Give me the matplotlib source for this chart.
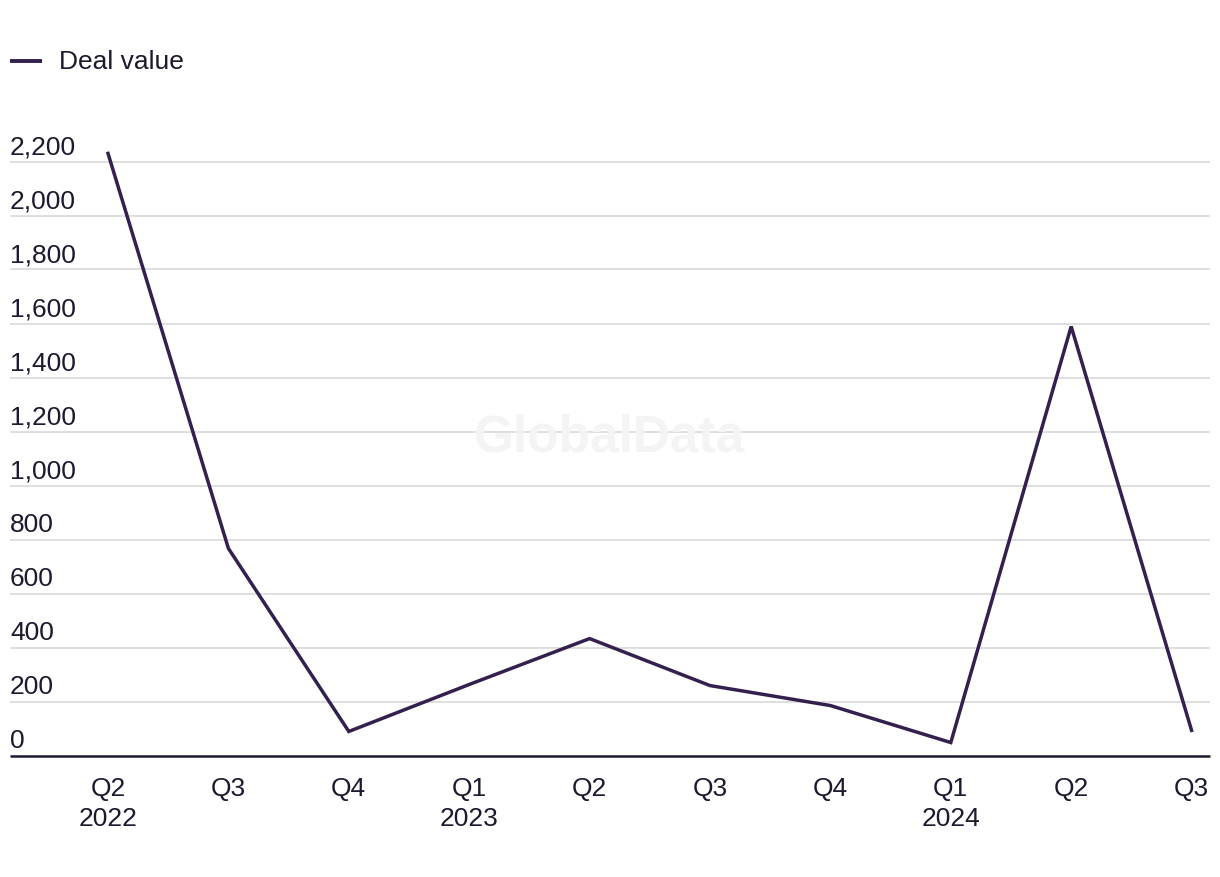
import matplotlib
matplotlib.use("Agg")
import matplotlib.pyplot as plt
import matplotlib.transforms as mtransforms
from matplotlib.lines import Line2D

plt.rcParams['font.family'] = ['Liberation Sans', 'DejaVu Sans']

# data
quarters = ["Q2\n2022", "Q3", "Q4", "Q1\n2023", "Q2", "Q3", "Q4", "Q1\n2024", "Q2", "Q3"]
deal_value = [2230, 767, 89, 263, 433, 259, 185, 48, 1589, 93]
y_ticks = [0, 200, 400, 600, 800, 1000, 1200, 1400, 1600, 1800, 2000, 2200]

line_col = "#33204f"
text_col = "#1b1a2e"
grid_col = "#d9d9d9"

W, H = 1220, 878
fig = plt.figure(figsize=(W / 100, H / 100), dpi=100)
ax = fig.add_axes([10 / W, (H - 756.5) / H, 1200 / W, (756.5 - 140) / H])

x = list(range(len(quarters)))
ax.plot(x, deal_value, color=line_col, lw=2.5, solid_joinstyle="miter", clip_on=False, zorder=3)

ax.set_xlim(-0.814, 9.153)
ax.set_ylim(0, (756.5 - 140) / 0.27)

for v in y_ticks[1:]:
    ax.axhline(v, color=grid_col, lw=1.2, zorder=1)
ax.axhline(0, color=text_col, lw=1.8, zorder=2, clip_on=False, solid_capstyle="butt")

for s in ax.spines.values():
    s.set_visible(False)
ax.set_yticks([])
ax.set_xticks(x)
ax.set_xticklabels(quarters, fontsize=19, color=text_col, linespacing=1.32)
ax.tick_params(axis="x", length=0, pad=15)

# y labels sit above their gridline, flush left
trans = mtransforms.blended_transform_factory(ax.transAxes, ax.transData)
trans = mtransforms.offset_copy(trans, fig=fig, x=0, y=3, units="dots")
for v in y_ticks:
    ax.text(0, v, f"{v:,}", transform=trans, ha="left", va="bottom",
            fontsize=19, color=text_col)

# legend
fig.add_artist(Line2D([10 / W, 42 / W], [(H - 62) / H] * 2, color=line_col, lw=2.8,
                      solid_capstyle="butt", transform=fig.transFigure))
fig.text(59 / W, (H - 62) / H, "Deal value", ha="left", va="center",
         fontsize=19, color=text_col)

# watermark
fig.text(610 / W, (H - 438) / H, "GlobalData", ha="center", va="center",
         fontsize=37, fontweight="bold", color="#f4f4f4", zorder=0)

fig.savefig("out.png", dpi=100, facecolor="white")
